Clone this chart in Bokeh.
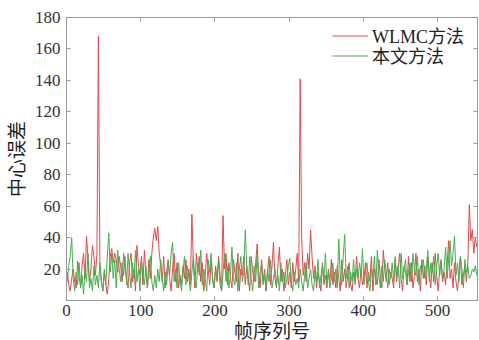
from bokeh.plotting import figure
from bokeh.models import LinearAxis, FixedTicker, Range1d, Legend, LegendItem
from bokeh.embed import file_html
from bokeh.resources import INLINE

# frame indices (every second frame)
frames = list(range(1, 554, 2))

wlmc = [
    18, 10, 6, 14, 20, 12, 8, 25, 15, 9, 22, 30, 14, 41, 26, 12, 20, 35, 28, 16,
    30, 168, 22, 12, 6, 18, 10, 4, 14, 28, 33, 24, 30, 26, 18, 28, 22, 12, 30, 20,
    14, 8, 24, 30, 12, 20, 6, 35, 22, 16, 28, 10, 32, 18, 8, 26, 14, 30, 40, 46,
    38, 47, 30, 22, 12, 28, 8, 18, 26, 14, 6, 20, 30, 12, 24, 8, 16, 10, 22, 14,
    26, 12, 20, 10, 55, 24, 8, 30, 18, 28, 12, 24, 6, 16, 30, 20, 10, 26, 14, 8,
    22, 12, 28, 16, 6, 54, 20, 30, 10, 24, 14, 8, 26, 18, 12, 30, 6, 20, 16, 28,
    10, 22, 14, 6, 28, 18, 12, 24, 36, 16, 8, 26, 12, 20, 6, 18, 28, 10, 22, 37,
    14, 8, 22, 34, 12, 20, 6, 16, 26, 10, 18, 8, 24, 12, 20, 30, 12, 141, 40, 16,
    24, 12, 30, 20, 45, 28, 14, 22, 8, 18, 12, 6, 24, 10, 16, 8, 20, 12, 26, 10,
    18, 8, 22, 14, 6, 26, 12, 20, 8, 16, 24, 10, 6, 18, 12, 28, 14, 8, 20, 10,
    14, 24, 8, 18, 12, 28, 6, 20, 14, 10, 26, 16, 8, 32, 20, 12, 24, 10, 18, 14,
    8, 26, 12, 20, 30, 14, 6, 22, 18, 10, 28, 12, 24, 8, 16, 30, 12, 20, 6, 26,
    14, 22, 10, 28, 18, 8, 24, 12, 30, 16, 6, 20, 26, 12, 18, 10, 22, 38, 14, 20,
    8, 24, 12, 6, 18, 28, 10, 16, 22, 12, 24, 61, 38, 45, 30, 40, 34,
]

ours = [
    12, 22, 28, 40, 14, 6, 18, 10, 24, 8, 16, 4, 20, 12, 30, 8, 14, 6, 22, 10,
    16, 8, 24, 12, 6, 20, 10, 28, 43, 18, 30, 14, 26, 8, 32, 20, 12, 24, 16, 28,
    10, 30, 18, 8, 24, 14, 32, 12, 20, 6, 26, 16, 10, 22, 8, 18, 28, 12, 6, 16,
    8, 20, 12, 26, 14, 6, 18, 10, 24, 16, 30, 37, 12, 20, 8, 24, 14, 6, 18, 28,
    10, 22, 14, 6, 18, 28, 12, 8, 24, 16, 32, 10, 20, 14, 6, 26, 18, 30, 12, 8,
    20, 14, 26, 10, 6, 18, 30, 12, 22, 8, 16, 34, 14, 10, 24, 6, 20, 28, 12, 18,
    45, 20, 10, 28, 14, 6, 22, 12, 30, 8, 18, 24, 10, 16, 6, 20, 12, 26, 8, 14,
    20, 10, 16, 6, 24, 12, 18, 8, 14, 22, 27, 12, 6, 18, 10, 14, 8, 20, 12, 6,
    16, 24, 8, 14, 20, 10, 6, 18, 12, 26, 8, 16, 22, 12, 30, 10, 18, 8, 14, 24,
    12, 20, 8, 39, 16, 10, 28, 42, 14, 22, 8, 18, 12, 26, 10, 20, 14, 24, 16, 33,
    10, 18, 24, 12, 6, 20, 14, 28, 10, 32, 16, 8, 22, 12, 26, 18, 8, 20, 14, 24,
    12, 28, 16, 22, 8, 30, 14, 20, 26, 10, 18, 24, 12, 30, 20, 16, 28, 10, 22, 18,
    26, 14, 20, 32, 12, 24, 18, 28, 10, 22, 30, 16, 24, 12, 20, 34, 14, 26, 38, 22,
    30, 41, 16, 24, 12, 28, 20, 8, 26, 18, 22, 14, 16, 20, 18, 22, 16,
]

x_ticks = [0, 100, 200, 300, 400, 500]
y_ticks = [20, 40, 60, 80, 100, 120, 140, 160, 180]
series_names = ["WLMC方法", "本文方法"]

FONT = "'Liberation Serif', 'Noto Sans CJK SC'"
NUMFONT = "Liberation Serif"
AX = "#9a9a9a"

p = figure(width=479, height=340, output_backend="svg", toolbar_location=None,
           x_range=Range1d(0, 554), y_range=Range1d(0, 180),
           frame_width=411, frame_height=283,
           min_border_left=66, min_border_right=2, min_border_top=17, min_border_bottom=40)
p.background_fill_color = "white"
p.border_fill_color = "white"
p.outline_line_color = AX
p.xgrid.visible = False
p.ygrid.visible = False

r1 = p.line(frames, wlmc, color="#e6474a", line_width=1)
r2 = p.line(frames, ours, color="#45b04f", line_width=1)

def style(ax):
    ax.axis_line_color = AX
    ax.major_tick_line_color = AX
    ax.minor_tick_line_color = None
    ax.major_tick_in = 4
    ax.major_tick_out = 0
    ax.major_label_text_font = NUMFONT
    ax.major_label_text_font_size = "17px"
    ax.major_label_text_color = "#333333"
    ax.axis_label_text_font = FONT
    ax.axis_label_text_font_size = "19px"
    ax.axis_label_text_font_style = "normal"
    ax.axis_label_text_color = "#222222"

xa = p.xaxis[0]
xa.ticker = FixedTicker(ticks=x_ticks)
xa.axis_label = "帧序列号"
xa.axis_label_standoff = 2
xa.major_label_standoff = 4
style(xa)

ya = p.yaxis[0]
ya.ticker = FixedTicker(ticks=y_ticks)
ya.axis_label = "中心误差"
ya.axis_label_standoff = 4
ya.major_label_standoff = 6
style(ya)

top = LinearAxis(ticker=FixedTicker(ticks=x_ticks))
style(top)
top.major_label_overrides = {t: "" for t in x_ticks}
top.major_label_standoff = 0
p.add_layout(top, "above")
right = LinearAxis(ticker=FixedTicker(ticks=y_ticks))
style(right)
right.major_label_overrides = {t: "" for t in y_ticks}
right.major_label_standoff = 0
p.add_layout(right, "right")

def make_legend(label, rend, loc):
    lg = Legend(items=[LegendItem(label=label, renderers=[rend])], location=loc)
    lg.border_line_color = None
    lg.background_fill_alpha = 0
    lg.label_text_font = FONT
    lg.label_text_font_size = "18px"
    lg.label_text_color = "#222222"
    lg.glyph_width = 36
    lg.glyph_height = 15
    lg.padding = 0
    lg.margin = 0
    lg.label_standoff = 4
    lg.label_height = 15
    p.add_layout(lg, "center")

make_legend(series_names[0], r1, (266, 252))
make_legend(series_names[1], r2, (266, 232))

open("out.html", "w").write(file_html(p, INLINE))
